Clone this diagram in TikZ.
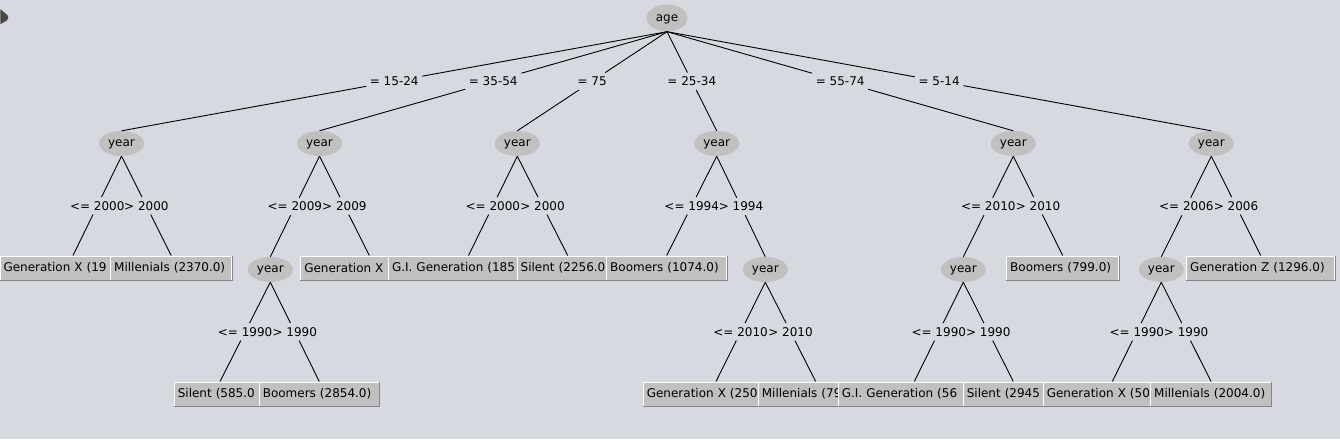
\documentclass[tikz,border=0pt]{standalone}
\usepackage{fontspec}
\setmainfont{DejaVu Sans}
\usepackage{xcolor}
\usepackage{tikz}
\usetikzlibrary{shapes.geometric}
\definecolor{cBack}{HTML}{D6D9DF}
\definecolor{cNode}{HTML}{C0C0C0}
\definecolor{cShade}{HTML}{868686}

\begin{document}
\begin{tikzpicture}[
  x=1pt, y=-1pt,
  font=\fontsize{12}{14}\selectfont,
  yr/.style = {ellipse, fill=cNode, inner sep=0pt, text depth=0.5pt,
               minimum width=45, minimum height=25},
  lf/.style = {rectangle, fill=cNode, draw=white, line width=1pt,
               inner xsep=3.5pt, inner ysep=0pt, minimum height=24, align=left},
  sh/.style = {draw=cShade, line width=1pt},
  % no fill: the two labels under one node touch, so the line is split at
  % the label's border instead of being masked by it
  lb/.style = {midway, inner xsep=3.5pt, inner ysep=4pt},
  ar/.style = {draw=black, line width=0.9pt},
]
\fill[cBack] (0,0) rectangle (1340,439);
\useasboundingbox (0,0) rectangle (1340,439);
% mouse pointer left in the corner of the screenshot
\filldraw[fill=black!72, draw=white!85!black, line width=0.8pt]
  (0,8) -- (8,15) -- (9,18) -- (7,21) -- (0,25) -- cycle;

\node[yr, minimum width=41, minimum height=27] (age) at (667,18) {age};
\foreach \n/\x/\y in {ya/121.5/143.5, yb/319.5/143.5, yc/517.3/143.5,
                      yd/716.7/143.5, ye/1013.3/143.5, yf/1211.3/143.5,
                      yb2/270.3/269.5, yd2/765.3/269.5, ye2/963.3/269.5,
                      yf2/1161.3/269.5}
  \node[yr] (\n) at (\x,\y) {year};

% leaves overlap their neighbours: each later box hides the tail of the one before
\foreach \n/\x/\y/\w/\txt in {
  lfA/73/268/146/{Generation X (19},
  lfB/171.2/268/121/{Millenials (2370.0)},
  lfC/369.3/268/137/{Generation X},
  lfD/468.5/268/160/{G.I. Generation (185},
  lfE/567.7/268/101/{Silent (2256.0},
  lfF/666.7/268/120/{Boomers (1074.0)},
  lfG/1062.7/268/112/{Boomers (799.0)},
  lfH/1260.7/268/148/{Generation Z (1296.0)},
  lfI/220/394/91.4/{Silent (585.0},
  lfJ/319.3/394/120/{Boomers (2854.0)},
  lfK/716/394/145.4/{Generation X (250},
  lfL/815.7/394/114.8/{Millenials (79},
  lfM/914.3/394/152/{G.I. Generation (56},
  lfN/1013.3/394/100/{Silent (2945},
  lfO/1112.3/394/138/{Generation X (50},
  lfP/1211/394/120.6/{Millenials (2004.0)}}
{
  \pgfmathsetmacro\tw{\w-7}
  \node[lf, minimum width=\w, text width=\tw pt] (\n) at (\x,\y) {\mbox{\txt}};
  \draw[sh] (\n.north east) -- (\n.south east) -- (\n.south west);
}

\foreach \a/\b/\t [count=\k] in {
  age/ya/{= 15-24}, age/yb/{= 35-54}, age/yc/{= 75},
  age/yd/{= 25-34}, age/ye/{= 55-74}, age/yf/{= 5-14},
  ya/lfA/{<= 2000}, ya/lfB/{> 2000},
  yb/yb2/{<= 2009}, yb/lfC/{> 2009},
  yc/lfD/{<= 2000}, yc/lfE/{> 2000},
  yd/lfF/{<= 1994}, yd/yd2/{> 1994},
  ye/ye2/{<= 2010}, ye/lfG/{> 2010},
  yf/yf2/{<= 2006}, yf/lfH/{> 2006},
  yb2/lfI/{<= 1990}, yb2/lfJ/{> 1990},
  yd2/lfK/{<= 2010}, yd2/lfL/{> 2010},
  ye2/lfM/{<= 1990}, ye2/lfN/{> 1990},
  yf2/lfO/{<= 1990}, yf2/lfP/{> 1990}}
{
  \path (\a.south) -- node[lb] (e\k) {\t} (\b.north);
  \draw[ar] (\a.south) -- (e\k);
  \draw[ar] (e\k) -- (\b.north);
}
\end{tikzpicture}
\end{document}
